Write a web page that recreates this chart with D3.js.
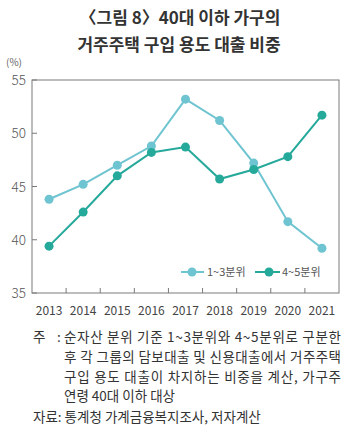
<!DOCTYPE html>
<html><head><meta charset="utf-8">
<script src="https://cdn.jsdelivr.net/npm/d3@7"></script>
<style>
body{margin:0;background:#fff;}
svg{display:block;font-family:"Noto Sans CJK KR","Noto Sans",sans-serif;}
</style></head>
<body><svg id="c" width="351" height="430"></svg>
<script>
const years = ["2013","2014","2015","2016","2017","2018","2019","2020","2021"];
const low = [43.8, 45.2, 47.0, 48.8, 53.2, 51.2, 47.2, 41.7, 39.2];
const high = [39.4, 42.6, 46.0, 48.2, 48.7, 45.7, 46.6, 47.8, 51.7];
const yTicks = [35, 40, 45, 50, 55];
const seriesNames = ["1~3분위", "4~5분위"];
const colors = ["#6ec4d0", "#25a99a"];

const svg = d3.select("#c");
const L = 32, R = 339, T = 80, B = 293;
const x = d3.scaleBand().domain(years).range([L, R]);
const y = d3.scaleLinear().domain([35, 55]).range([B, T]);

// title
svg.append("text").attr("x", 180).attr("y", 24).attr("text-anchor", "middle")
  .attr("font-size", 17).attr("font-weight", 700).attr("fill", "#333")
  .text("〈그림 8〉40대 이하 가구의");
svg.append("text").attr("x", 179).attr("y", 51).attr("text-anchor", "middle")
  .attr("font-size", 17).attr("font-weight", 700).attr("fill", "#333")
  .text("거주주택 구입 용도 대출 비중");

// frame
svg.append("rect").attr("x", L).attr("y", T).attr("width", R - L).attr("height", B - T)
  .attr("fill", "none").attr("stroke", "#7a7a7a").attr("stroke-width", 1);

// y axis ticks
const yg = svg.append("g");
yTicks.forEach(t => {
  yg.append("line").attr("x1", L).attr("x2", L + 5).attr("y1", y(t)).attr("y2", y(t))
    .attr("stroke", "#7a7a7a");
  yg.append("text").attr("x", 26).attr("y", y(t) + 5).attr("text-anchor", "end")
    .attr("font-size", 13.5).attr("fill", "#555").attr("font-weight", 300).text(t);
});
svg.append("text").attr("x", 6).attr("y", 66).attr("font-size", 10).attr("fill", "#666").text("(%)");

// x axis ticks
years.forEach((yr, i) => {
  if (i > 0) svg.append("line").attr("x1", x(yr)).attr("x2", x(yr)).attr("y1", B).attr("y2", B - 5)
    .attr("stroke", "#7a7a7a");
  svg.append("text").attr("x", x(yr) + x.bandwidth() / 2).attr("y", 315).attr("text-anchor", "middle")
    .attr("font-size", 12).attr("fill", "#444").text(yr);
});

const line = d3.line().x((d, i) => x(years[i]) + x.bandwidth() / 2).y(d => y(d));
[low, high].forEach((s, k) => {
  svg.append("path").attr("d", line(s)).attr("fill", "none").attr("stroke", colors[k]).attr("stroke-width", 2);
  svg.selectAll(null).data(s).enter().append("circle")
    .attr("cx", (d, i) => x(years[i]) + x.bandwidth() / 2).attr("cy", d => y(d)).attr("r", 4.5)
    .attr("fill", colors[k]);
});

// legend
const lg = [{x1: 181, x2: 204, c: 192, t: 207}, {x1: 255, x2: 280, c: 269, t: 282}];
lg.forEach((p, k) => {
  svg.append("line").attr("x1", p.x1).attr("x2", p.x2).attr("y1", 272).attr("y2", 272)
    .attr("stroke", colors[k]).attr("stroke-width", 2);
  svg.append("circle").attr("cx", p.c).attr("cy", 272).attr("r", 4.5).attr("fill", colors[k]);
  svg.append("text").attr("x", p.t).attr("y", 276).attr("font-size", 11).attr("fill", "#555").text(seriesNames[k]);
});

// notes
const notes = ["순자산 분위 기준 1~3분위와 4~5분위로 구분한",
  "후 각 그룹의 담보대출 및 신용대출에서 거주주택",
  "구입 용도 대출이 차지하는 비중을 계산, 가구주",
  "연령 40대 이하 대상"];
const fs = 13.5;
svg.append("text").attr("x", 33).attr("y", 342).attr("font-size", fs).attr("fill", "#333").text("주");
svg.append("text").attr("x", 57).attr("y", 342).attr("font-size", fs).attr("fill", "#333").text(":");
notes.forEach((n, i) => {
  svg.append("text").attr("x", 64).attr("y", 342 + i * 19.8).attr("font-size", fs).attr("fill", "#333")
    .attr("textLength", i < 3 ? 277 : null).attr("lengthAdjust", "spacing").text(n);
});
svg.append("text").attr("x", 33).attr("y", 422).attr("font-size", fs).attr("fill", "#333")
  .text("자료: 통계청 가계금융복지조사, 저자계산");
</script></body></html>
